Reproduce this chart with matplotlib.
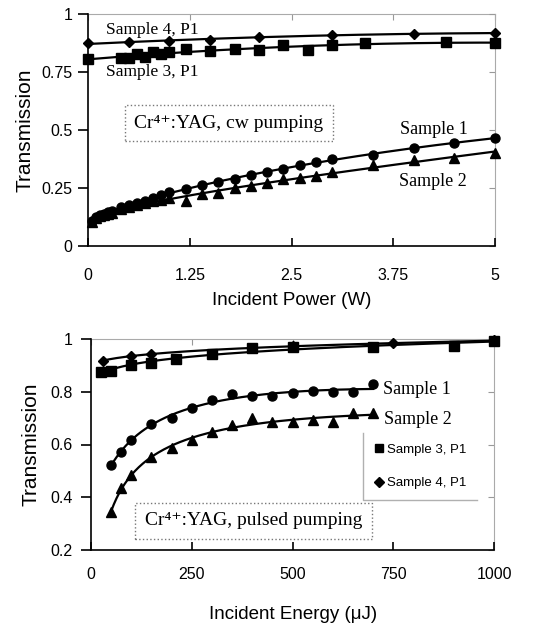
import numpy as np
import matplotlib
matplotlib.use("Agg")
import matplotlib.pyplot as plt
from matplotlib.lines import Line2D

plt.rcParams['font.family'] = ['Liberation Sans', 'DejaVu Sans']

# ---------------- data: top panel (cw pumping) ----------------
cw_p_s12 = [0.05, 0.1, 0.15, 0.2, 0.25, 0.3, 0.4, 0.5, 0.6, 0.7, 0.8, 0.9, 1.0,
            1.2, 1.4, 1.6, 1.8, 2.0, 2.2, 2.4, 2.6, 2.8, 3.0, 3.5, 4.0, 4.5, 5.0]
cw_t_s1 = [0.108, 0.125, 0.134, 0.140, 0.145, 0.150, 0.167, 0.178, 0.187, 0.196, 0.206,
           0.218, 0.232, 0.246, 0.261, 0.275, 0.289, 0.308, 0.321, 0.334, 0.347, 0.360,
           0.375, 0.394, 0.421, 0.445, 0.465]
cw_t_s2 = [0.103, 0.120, 0.130, 0.135, 0.139, 0.144, 0.160, 0.170, 0.178, 0.185, 0.192,
           0.197, 0.205, 0.194, 0.223, 0.227, 0.250, 0.260, 0.271, 0.287, 0.293, 0.303,
           0.317, 0.347, 0.370, 0.381, 0.400]
cw_p_s3 = [0, 0.4, 0.5, 0.6, 0.7, 0.8, 0.9, 1.0, 1.2, 1.5, 1.8, 2.1, 2.4, 2.7, 3.0, 3.4, 4.4, 5.0]
cw_t_s3 = [0.805, 0.811, 0.812, 0.826, 0.815, 0.835, 0.827, 0.835, 0.848, 0.842, 0.848,
           0.846, 0.868, 0.845, 0.866, 0.873, 0.880, 0.875]
cw_p_s4 = [0, 0.5, 1.0, 1.5, 2.1, 3.0, 4.0, 5.0]
cw_t_s4 = [0.874, 0.878, 0.883, 0.889, 0.903, 0.911, 0.914, 0.917]

# ---------------- data: bottom panel (pulsed pumping) ----------------
pu_e_s12 = [50, 75, 100, 150, 200, 250, 300, 350, 400, 450, 500, 550, 600, 650, 700]
pu_t_s1 = [0.522, 0.573, 0.617, 0.678, 0.699, 0.740, 0.769, 0.790, 0.785, 0.784, 0.794,
           0.803, 0.798, 0.800, 0.829]
pu_t_s2 = [0.345, 0.434, 0.484, 0.554, 0.588, 0.617, 0.646, 0.674, 0.699, 0.684, 0.684,
           0.693, 0.686, 0.720, 0.720]
pu_e_s3 = [25, 50, 100, 150, 210, 300, 400, 500, 700, 900, 1000]
pu_t_s3 = [0.874, 0.879, 0.900, 0.910, 0.924, 0.942, 0.965, 0.968, 0.971, 0.975, 0.992]
pu_e_s4 = [30, 100, 150, 500, 750, 1000]
pu_t_s4 = [0.918, 0.936, 0.943, 0.972, 0.983, 0.995]

fig = plt.figure(figsize=(5.4, 6.27), dpi=100)
ax1 = fig.add_axes([88/540, 1-246/627, 407/540, 232/627])
ax2 = fig.add_axes([91/540, 1-550/627, 403/540, 211/627])

LW = 1.6
MS = dict(o=6.5, s=6.5, D=5.0, **{'^': 7.0})


def trend(x, y, tf, deg, n=200, lo=None, hi=None):
    x = np.asarray(x, float); y = np.asarray(y, float)
    c = np.polyfit(tf(x), y, deg)
    xs = np.linspace(x.min() if lo is None else lo, x.max() if hi is None else hi, n)
    return xs, np.polyval(c, tf(xs))


def style(ax, xticks, yticks, xlim, ylim, ylen, xpad, ypad):
    ax.set_xlim(*xlim); ax.set_ylim(*ylim)
    ax.set_xticks(xticks); ax.set_yticks(yticks)
    ax.set_xticklabels(['%g' % v for v in xticks])
    ax.set_yticklabels(['%g' % v for v in yticks])
    ax.spines['top'].set_visible(False)
    ax.spines['right'].set_visible(False)
    for s in ('left', 'bottom'):
        ax.spines[s].set_linewidth(1.2)
    ax.tick_params(axis='x', direction='in', length=6, width=1.2, pad=xpad, labelsize=11.5)
    ax.tick_params(axis='y', direction='out', length=ylen, width=1.2, pad=ypad, labelsize=11.5)
    sx = ax.secondary_xaxis('top')
    sx.set_xticks(xticks)
    sx.tick_params(direction='in', length=4, color='#999999', labeltop=False)
    sx.spines['top'].set_color('#aaaaaa')
    sy = ax.secondary_yaxis('right')
    sy.set_yticks(yticks)
    sy.tick_params(direction='in', length=4, color='#999999', labelright=False)
    sy.spines['right'].set_color('#aaaaaa')


serif = ['Liberation Serif', 'DejaVu Serif']

# ---------------- top panel ----------------
for xs, ys, m in [(cw_p_s12, cw_t_s1, 'o'), (cw_p_s12, cw_t_s2, '^'),
                  (cw_p_s3, cw_t_s3, 's'), (cw_p_s4, cw_t_s4, 'D')]:
    ax1.plot(xs, ys, ls='none', marker=m, ms=MS[m], color='black', clip_on=False, zorder=3)
for xs, ys, tf, deg in [(cw_p_s12, cw_t_s1, np.sqrt, 3), (cw_p_s12, cw_t_s2, np.sqrt, 3),
                        (cw_p_s3, cw_t_s3, lambda v: v, 2), (cw_p_s4, cw_t_s4, lambda v: v, 2)]:
    fx, fy = trend(xs, ys, tf, deg)
    ax1.plot(fx, fy, color='black', lw=LW, clip_on=False, zorder=2)

style(ax1, [0, 1.25, 2.5, 3.75, 5], [0, 0.25, 0.5, 0.75, 1], (0, 5), (0, 1), 7, 16, 4)
ax1.set_xlabel('Incident Power (W)', fontsize=13.5, va='center')
ax1.xaxis.set_label_coords(0.5, -0.233)
ax1.set_ylabel('Transmission', fontsize=15, va='center', ha='center')
ax1.yaxis.set_label_coords(-0.155, 0.5)

ax1.text(0.22, 0.931, 'Sample 4, P1', family=serif, fontsize=12.5, ha='left', va='center')
ax1.text(0.22, 0.75, 'Sample 3, P1', family=serif, fontsize=12.5, ha='left', va='center')
ax1.text(4.25, 0.50, 'Sample 1', family=serif, fontsize=13, ha='center', va='center')
ax1.text(4.24, 0.276, 'Sample 2', family=serif, fontsize=13, ha='center', va='center')
ax1.text(1.73, 0.53, 'Cr\u2074\u207a:YAG, cw pumping', family=serif, fontsize=14,
         ha='center', va='center',
         bbox=dict(boxstyle='square,pad=0.5', fc='white', ec='#777777', ls=':', lw=1.0))

# ---------------- bottom panel ----------------
for xs, ys, m in [(pu_e_s12, pu_t_s1, 'o'), (pu_e_s12, pu_t_s2, '^'),
                  (pu_e_s3, pu_t_s3, 's'), (pu_e_s4, pu_t_s4, 'D')]:
    ax2.plot(xs, ys, ls='none', marker=m, ms=MS[m], color='black', clip_on=False, zorder=3)
for xs, ys, deg, lo in [(pu_e_s12, pu_t_s1, 3, None), (pu_e_s12, pu_t_s2, 3, None),
                        (pu_e_s3, pu_t_s3, 2, 30), (pu_e_s4, pu_t_s4, 2, 30)]:
    fx, fy = trend(xs, ys, np.log, deg, lo=lo)
    ax2.plot(fx, fy, color='black', lw=LW, clip_on=False, zorder=2)

style(ax2, [0, 250, 500, 750, 1000], [0.2, 0.4, 0.6, 0.8, 1.0], (0, 1000), (0.2, 1), 7, 12, 6)
ax2.set_xlabel('Incident Energy (μJ)', fontsize=13.5, va='center')
ax2.xaxis.set_label_coords(0.502, -0.308)
ax2.set_ylabel('Transmission', fontsize=15, va='center', ha='center')
ax2.yaxis.set_label_coords(-0.148, 0.5)

ax2.text(725, 0.807, 'Sample 1', family=serif, fontsize=13, ha='left', va='center')
ax2.text(727, 0.693, 'Sample 2', family=serif, fontsize=13, ha='left', va='center')
ax2.text(403, 0.31, 'Cr\u2074\u207a:YAG, pulsed pumping', family=serif, fontsize=14,
         ha='center', va='center',
         bbox=dict(boxstyle='square,pad=0.5', fc='white', ec='#777777', ls=':', lw=1.0))

handles = [Line2D([], [], ls='none', marker='s', ms=6, color='black'),
           Line2D([], [], ls='none', marker='D', ms=5, color='black')]
leg = ax2.legend(handles, ['Sample 3, P1', 'Sample 4, P1'], loc='center',
                 bbox_to_anchor=(0.675, 0.237, 0.283, 0.318), bbox_transform=ax2.transAxes,
                 frameon=False, fontsize=9.5, handlelength=0.8, handletextpad=0.2,
                 labelspacing=1.6, borderpad=0.3)
ax2.plot([0.675, 0.675, 0.958], [0.555, 0.237, 0.237], transform=ax2.transAxes,
         color='#b0b0b0', lw=1.0, clip_on=False)

fig.savefig('out.png', dpi=100)
